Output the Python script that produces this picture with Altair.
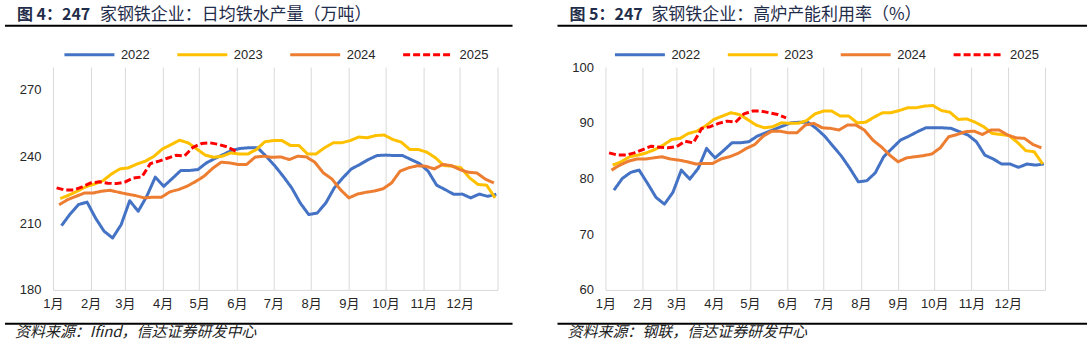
import altair as alt
import pandas as pd

years = ["2022", "2023", "2024", "2025"]
colors = ["#4472C4", "#FFC000", "#ED7D31", "#FF0000"]
dashes = [[1, 0], [1, 0], [1, 0], [7, 3]]
start_day = [7, 6, 5, 3]
month_start = [0, 31, 59, 90, 120, 151, 181, 212, 243, 273, 304, 334, 365]

# 日均铁水产量（万吨）
out_2022 = [208.8, 214.0, 218.3, 219.4, 212.2, 206.3, 203.3, 209.3, 220.0, 215.3,
            222.0, 230.6, 226.5, 230.0, 233.6, 233.6, 234.0, 237.0, 239.0, 240.8,
            242.7, 243.5, 243.8, 243.8, 240.0, 235.8, 231.0, 225.8, 219.0, 213.8,
            214.5, 219.0, 225.8, 230.3, 234.3, 236.3, 238.5, 240.3, 240.5, 240.3,
            240.3, 238.5, 236.7, 233.3, 227.0, 225.0, 222.9, 223.0, 221.3, 223.0,
            222.0, 222.9]
out_2023 = [221.0, 222.5, 224.3, 226.3, 227.5, 229.0, 232.0, 234.3, 234.8, 236.5,
            237.8, 240.0, 243.3, 245.2, 247.2, 246.0, 243.3, 240.5, 239.5, 240.0,
            241.5, 241.0, 241.0, 243.0, 246.5, 247.0, 247.0, 244.8, 244.8, 241.0,
            241.0, 243.8, 246.0, 246.0, 247.0, 248.6, 248.3, 249.3, 249.5, 247.5,
            246.3, 243.0, 243.0, 241.8, 239.3, 235.8, 235.5, 234.8, 230.3, 227.3,
            227.0, 221.3]
out_2024 = [218.2, 220.5, 222.0, 223.5, 223.5, 224.3, 224.7, 223.8, 223.0, 222.3,
            221.3, 221.6, 221.6, 224.0, 225.0, 226.5, 228.6, 231.0, 234.5, 237.3,
            237.0, 236.3, 236.3, 239.6, 240.0, 239.5, 239.7, 238.5, 240.0, 239.7,
            237.3, 232.5, 229.8, 225.0, 221.3, 223.0, 223.8, 224.4, 225.4, 228.0,
            233.3, 234.8, 235.7, 235.5, 234.3, 236.3, 235.8, 234.0, 232.8, 232.5,
            229.7, 228.0]
out_2025 = [225.8, 224.8, 224.8, 226.2, 228.0, 228.5, 227.9, 227.7, 228.4, 230.2,
            230.7, 236.7, 237.8, 239.1, 240.4, 240.1, 244.0, 245.7, 246.0, 245.3,
            244.2, 242.3]

# 高炉产能利用率（%）
util_2022 = [77.9, 80.0, 81.1, 81.5, 79.1, 76.6, 75.4, 77.5, 81.5, 79.9,
             81.8, 85.4, 83.7, 85.0, 86.4, 86.4, 86.6, 87.6, 88.2, 88.8,
             89.4, 90.0, 90.1, 90.1, 89.0, 87.6, 85.8, 84.0, 81.8, 79.4,
             79.6, 81.0, 83.9, 85.4, 86.9, 87.6, 88.4, 89.1, 89.1, 89.1,
             89.0, 88.4, 87.8, 86.6, 84.2, 83.5, 82.6, 82.6, 82.0, 82.6,
             82.4, 82.6]
util_2023 = [82.4, 83.0, 83.9, 84.2, 84.6, 85.2, 86.0, 87.0, 87.2, 88.1,
             88.5, 89.4, 90.6, 91.2, 91.8, 91.5, 90.6, 89.6, 89.1, 89.3,
             90.0, 89.9, 89.9, 90.4, 91.6, 92.1, 92.1, 91.2, 91.2, 90.0,
             90.1, 91.0, 91.8, 91.8, 92.2, 92.7, 92.7, 93.0, 93.1, 92.2,
             91.9, 90.6, 90.7, 90.1, 89.3, 88.1, 87.9, 87.7, 86.5, 85.0,
             84.8, 82.6]
util_2024 = [81.5, 82.4, 83.1, 83.5, 83.5, 83.7, 83.9, 83.5, 83.3, 83.0,
             82.6, 82.7, 82.7, 83.5, 83.9, 84.5, 85.4, 86.1, 87.6, 88.5,
             88.5, 88.2, 88.2, 89.6, 89.9, 89.1, 89.0, 88.7, 89.6, 89.6,
             88.7, 86.9, 85.7, 84.2, 83.0, 83.7, 83.9, 84.1, 84.4, 85.5,
             87.5, 87.9, 88.4, 88.5, 87.9, 88.7, 88.7, 87.8, 87.3, 87.2,
             86.1, 85.5]
util_2025 = [84.6, 84.2, 84.2, 84.6, 85.2, 85.8, 85.6, 85.5, 85.7, 86.7,
             86.4, 89.0, 89.3, 89.9, 90.3, 90.1, 91.6, 92.1, 92.1, 91.8,
             91.5, 90.9]

LATIN = "Liberation Sans, Noto Sans CJK SC"
CJK = "Noto Sans CJK SC"
TITLE_COLOR = "#1f2d4a"
MONTH_EXPR = ("datum.value == 365 ? '' : (indexof([0,31,59,90,120,151,181,212,243,273,304,334], "
              "datum.value) + 1) + '月'")


def panel(series, ydomain, yticks, width, title_num, title_rest, rest_x,
          source, left_x, right_x, legend_x, anchor=False):
    rows = []
    for yr, s, vals in zip(years, start_day, series):
        for i, v in enumerate(vals):
            rows.append({"day": s + 7 * i, "value": v, "year": yr})
    df = pd.DataFrame(rows)
    one = pd.DataFrame({"k": [0]})

    leg = alt.Legend(orient="none", legendX=legend_x, legendY=-39, direction="horizontal",
                     title=None, symbolType="stroke", symbolSize=2500, symbolStrokeWidth=3,
                     labelFontSize=13, labelFont=LATIN, labelColor="#262626",
                     labelOffset=5, columnPadding=21, padding=0)

    lines = alt.Chart(df).mark_line(strokeWidth=3, strokeJoin="round").encode(
        x=alt.X("day:Q", title=None,
                scale=alt.Scale(domain=[0, 365], nice=False, zero=False),
                axis=alt.Axis(values=month_start, labelExpr=MONTH_EXPR, grid=True,
                              gridColor="#d9d9d9", gridWidth=1, domainColor="#d9d9d9",
                              ticks=False, tickSize=0, labelPadding=8,
                              labelFontSize=13, labelFont=LATIN, labelColor="#262626",
                              labelAlign="center", labelOverlap=False)),
        y=alt.Y("value:Q", title=None,
                scale=alt.Scale(domain=ydomain, nice=False, zero=False),
                axis=alt.Axis(values=yticks, grid=False, domain=False, ticks=False,
                              tickSize=0, labelPadding=12, labelFontSize=13,
                              labelFont=LATIN, labelColor="#262626")),
        color=alt.Color("year:N", scale=alt.Scale(domain=years, range=colors), legend=leg),
        strokeDash=alt.StrokeDash("year:N", scale=alt.Scale(domain=years, range=dashes),
                                  legend=leg),
    )

    t1 = alt.Chart(one).mark_text(align="left", baseline="middle", font=CJK, fontSize=16,
                                  fontWeight="bold", color=TITLE_COLOR).encode(
        x=alt.value(left_x + 12), y=alt.value(-52), text=alt.value(title_num))
    t2 = alt.Chart(one).mark_text(align="left", baseline="middle", font=CJK, fontSize=17,
                                  color=TITLE_COLOR).encode(
        x=alt.value(rest_x), y=alt.value(-52), text=alt.value(title_rest))
    r1 = alt.Chart(one).mark_rule(color="#000000", strokeWidth=2).encode(
        x=alt.value(left_x), x2=alt.value(right_x), y=alt.value(-41.5))
    r2 = alt.Chart(one).mark_rule(color="#000000", strokeWidth=2).encode(
        x=alt.value(left_x), x2=alt.value(right_x), y=alt.value(257))
    src = alt.Chart(one).mark_text(align="left", baseline="middle", font=CJK, fontSize=15,
                                   fontStyle="italic", color="#222222").encode(
        x=alt.value(left_x + 10), y=alt.value(265.5), text=alt.value(source))
    layers = [lines, t1, t2, r1, r2, src]
    if anchor:
        anc = alt.Chart(one).mark_rect(opacity=0).encode(
            x=alt.value(-53), x2=alt.value(-50), y=alt.value(-67), y2=alt.value(-64))
        layers.append(anc)
    return alt.layer(*layers).properties(width=width, height=223)


left = panel([out_2022, out_2023, out_2024, out_2025], [180, 280], [180, 210, 240, 270],
             445, "图 4：247", "家钢铁企业：日均铁水产量（万吨）", 47,
             "资料来源：Ifind，信达证券研发中心", -48, 460, 10, anchor=True)
right = panel([util_2022, util_2023, util_2024, util_2025], [60, 100], [60, 70, 80, 90, 100],
              440, "图 5：247", "家钢铁企业：高炉产能利用率（%）", 46,
              "资料来源：钢联，信达证券研发中心", -48, 482, 8)

chart = alt.hconcat(left, right, spacing=108, bounds="flush").resolve_scale(
    color="independent", strokeDash="independent"
).resolve_legend(
    color="independent", strokeDash="independent"
).properties(
    padding=0, background="white"
).configure_view(strokeWidth=0)

chart.save("out.html", embed_options={"renderer": "svg", "actions": False})
